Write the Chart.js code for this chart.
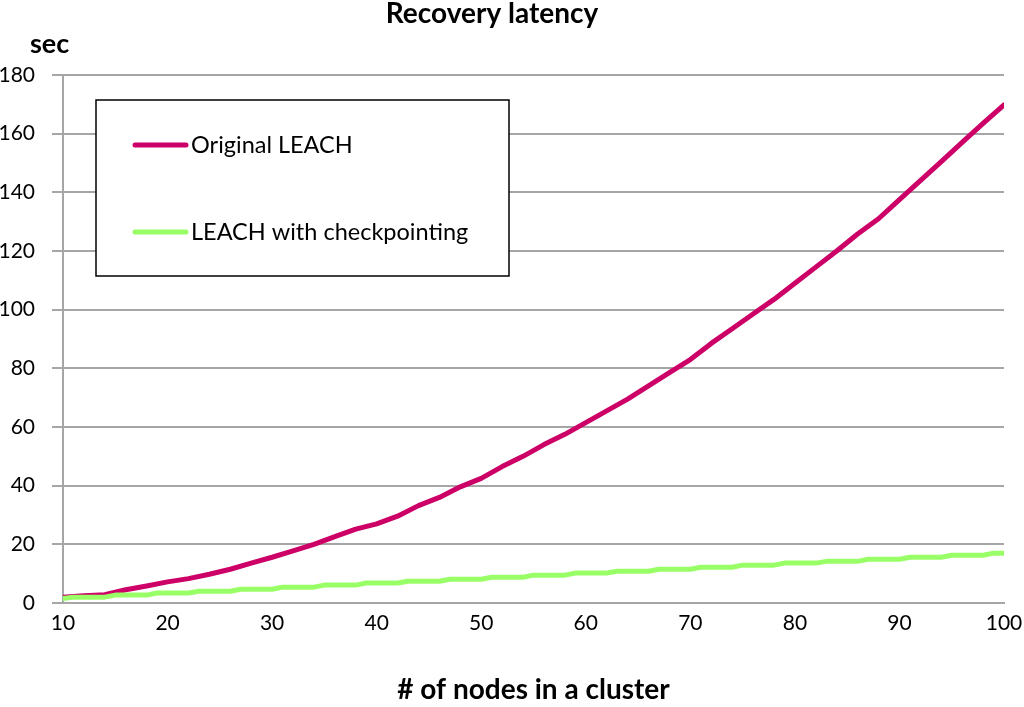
<!DOCTYPE html>
<html>
<head>
<meta charset="utf-8">
<script src="https://cdn.jsdelivr.net/npm/chart.js@4.4.1/dist/chart.umd.min.js"></script>
<style>html,body{margin:0;padding:0;background:#fff}</style>
</head>
<body>
<canvas id="chart" width="1024" height="707"></canvas>
<script>
const chartTitle = 'Recovery latency';
const yUnit = 'sec';
const xTitle = '# of nodes in a cluster';
const seriesNames = ['Original LEACH', 'LEACH with checkpointing'];

// Original LEACH
const originalX = [10, 12, 14, 16, 18, 20, 22, 24, 26, 28, 30, 32, 34, 36, 38, 40, 42, 44, 46, 48,
  50, 52, 54, 56, 58, 60, 62, 64, 66, 68, 70, 72, 74, 76, 78, 80, 82, 84, 86, 88, 90, 92, 94, 96, 98, 100];
const originalY = [2.0, 2.5, 2.8, 4.5, 5.8, 7.2, 8.3, 9.8, 11.5, 13.6, 15.6, 17.8, 20.0, 22.6, 25.2, 27.0, 29.6, 33.2, 36.0, 39.6,
  42.5, 46.5, 50.0, 54.0, 57.5, 61.5, 65.5, 69.5, 74.0, 78.5, 83.0, 88.5, 93.5, 98.5, 103.5, 109.0, 114.5, 120.0, 125.8, 131.0,
  137.5, 144.0, 150.5, 157.0, 163.5, 169.8];

// LEACH with checkpointing (stair-like), start and end of each flat step
const checkpointX = [10, 11, 14, 15, 18, 19, 22, 23, 26, 27, 30, 31, 34, 35, 38, 39, 42, 43, 46, 47, 50, 51, 54, 55, 58,
  59, 62, 63, 66, 67, 70, 71, 74, 75, 78, 79, 82, 83, 86, 87, 90, 91, 94, 95, 98, 99, 100];
const checkpointY = [1.5, 2.0, 2.0, 2.7, 2.7, 3.4, 3.4, 4.0, 4.0, 4.7, 4.7, 5.4, 5.4, 6.1, 6.1, 6.8, 6.8, 7.4, 7.4, 8.1, 8.1, 8.8, 8.8, 9.5, 9.5,
  10.2, 10.2, 10.8, 10.8, 11.5, 11.5, 12.2, 12.2, 12.9, 12.9, 13.6, 13.6, 14.2, 14.2, 14.9, 14.9, 15.6, 15.6, 16.3, 16.3, 17.0, 17.0];

const xTicks = [10, 20, 30, 40, 50, 60, 70, 80, 90, 100];
const yTicks = [0, 20, 40, 60, 80, 100, 120, 140, 160, 180];

const FONT = 'Lato, "Open Sans", sans-serif';
const gridGray = '#a6a6a6';

function toPoints(xs, ys) {
  return xs.map((x, i) => ({x: x, y: ys[i]}));
}

// title, unit label and the boxed legend inside the plot
const overlay = {
  id: 'overlay',
  afterDraw(chart) {
    const ctx = chart.ctx;
    ctx.save();
    ctx.fillStyle = '#000';
    ctx.textBaseline = 'middle';
    ctx.font = 'bold 28px ' + FONT;
    ctx.textAlign = 'center';
    ctx.fillText(chartTitle, 492, 14);
    ctx.textAlign = 'left';
    ctx.font = 'bold 27px ' + FONT;
    ctx.fillText(yUnit, 30, 44);

    // legend box
    const bx = 96, by = 100, bw = 413, bh = 176;
    ctx.fillStyle = '#fff';
    ctx.fillRect(bx, by, bw, bh);
    ctx.strokeStyle = '#000';
    ctx.lineWidth = 1.5;
    ctx.strokeRect(bx, by, bw, bh);
    const rows = [145, 232];
    chart.data.datasets.forEach((ds, i) => {
      ctx.strokeStyle = ds.borderColor;
      ctx.lineWidth = 5;
      ctx.lineCap = 'round';
      ctx.beginPath();
      ctx.moveTo(135, rows[i]);
      ctx.lineTo(186, rows[i]);
      ctx.stroke();
      ctx.fillStyle = '#000';
      ctx.font = '23.5px ' + FONT;
      ctx.fillText(ds.label, 191, rows[i]);
    });
    ctx.restore();
  }
};

new Chart(document.getElementById('chart'), {
  type: 'line',
  data: {
    datasets: [{
      label: seriesNames[0],
      data: toPoints(originalX, originalY),
      borderColor: '#cc0066',
      borderWidth: 5,
      pointRadius: 0,
      tension: 0,
      borderCapStyle: 'round',
      borderJoinStyle: 'round',
      order: 1
    }, {
      label: seriesNames[1],
      data: toPoints(checkpointX, checkpointY),
      borderColor: '#99ff66',
      borderWidth: 5,
      pointRadius: 0,
      tension: 0,
      borderCapStyle: 'round',
      borderJoinStyle: 'round',
      order: 0
    }]
  },
  options: {
    responsive: false,
    devicePixelRatio: 1,
    animation: false,
    layout: {
      padding: {top: 75, right: 20, left: 0, bottom: 0}
    },
    plugins: {
      legend: {display: false},
      title: {display: false},
      tooltip: {enabled: false}
    },
    scales: {
      x: {
        type: 'linear',
        min: 10,
        max: 100,
        afterBuildTicks: axis => { axis.ticks = xTicks.map(v => ({value: v})); },
        grid: {display: true, drawOnChartArea: false, drawTicks: false},
        border: {display: true, color: gridGray, width: 2},
        ticks: {
          color: '#000',
          padding: 8,
          maxRotation: 0,
          font: {family: FONT, size: 21}
        },
        title: {
          display: true,
          text: xTitle,
          color: '#000',
          font: {family: FONT, size: 28, weight: 'bold'},
          padding: {top: 0, bottom: 0}
        },
        afterFit: axis => {
          axis.height = 104;
          axis.paddingLeft = 0;
          axis.paddingRight = 0;
        }
      },
      y: {
        min: 0,
        max: 180,
        afterBuildTicks: axis => { axis.ticks = yTicks.map(v => ({value: v})); },
        grid: {color: gridGray, lineWidth: 2, tickLength: 11},
        border: {display: true, color: gridGray, width: 2},
        ticks: {
          color: '#000',
          padding: 17,
          font: {family: FONT, size: 21}
        },
        afterFit: axis => {
          axis.width = 63;
          axis.paddingTop = 0;
          axis.paddingBottom = 0;
        }
      }
    }
  },
  plugins: [overlay]
});
</script>
</body>
</html>
